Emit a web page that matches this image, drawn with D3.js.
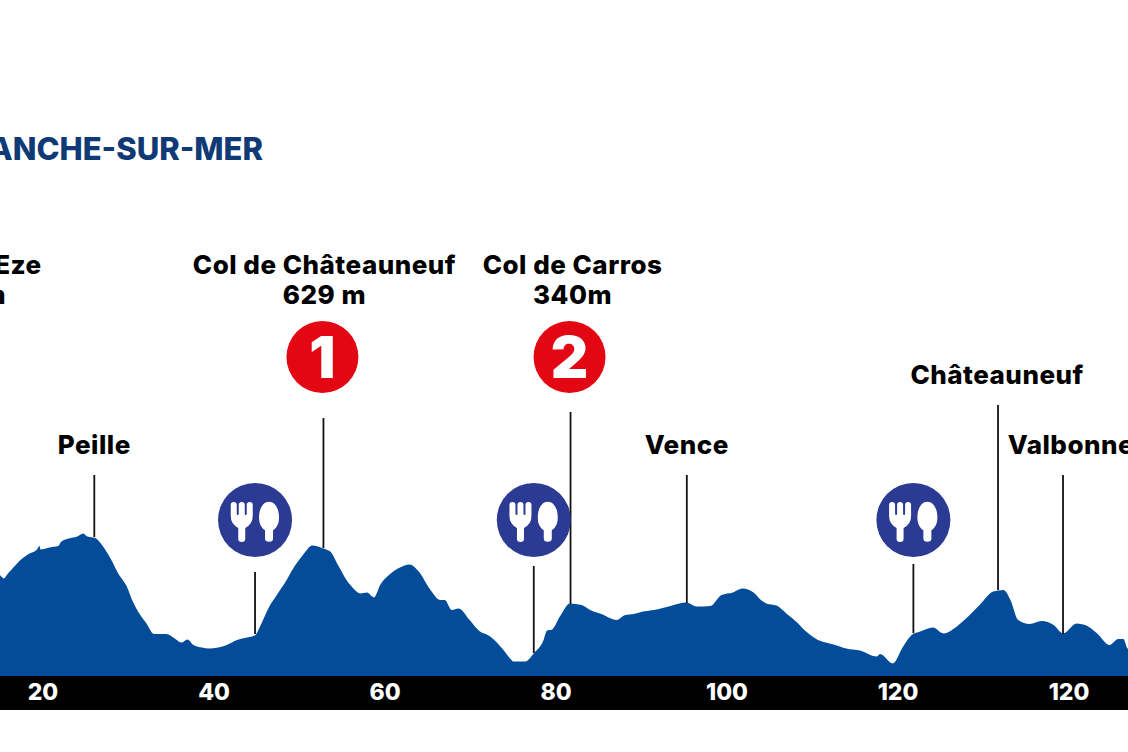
<!DOCTYPE html>
<html><head><meta charset="utf-8">
<script src="https://cdn.jsdelivr.net/npm/d3@7/dist/d3.min.js"></script>
<style>html,body{margin:0;background:#fff;overflow:hidden}svg{display:block}
text{font-family:Inter,"Open Sans",sans-serif;font-weight:800}</style></head>
<body><svg id="c" width="1128" height="752"></svg>
<script>
const titleText = "VILLEFRANCHE-SUR-MER";
const profileKm = [13,14.9,15.4,15.9,16.7,17.3,18.3,19.3,19.6,19.7,20.8,21.8,22.1,23,24,24.7,25.2,26.1,26.9,27.9,28.8,29.8,30.5,31.3,32.1,33,34.4,35.4,36.2,36.9,37.6,38.6,39.4,40.5,41.5,42.7,43.9,44.75,45.55,46.35,47.35,48.5,49.4,50.4,51.5,52.8,53.6,54.5,55.5,56.3,57.1,57.9,58.7,59.5,60.6,61.75,62.85,63.95,65.2,66.5,67,67.8,68.6,69.9,70.9,72.3,73.7,74.8,75,76.4,77.4,78.55,78.95,79.55,80.45,81.65,83,84,85.3,87.1,88.1,89.1,90.2,91.8,93.4,95.25,96.45,98.05,99.35,100.7,101.8,103.1,103.9,104.6,105.8,107,108.2,109.25,110.65,112.45,113.95,115.55,117.5,117.9,119.4,120.6,121.6,122.6,124.1,125.3,127.3,129.55,131.15,132.35,133.15,134.05,135.4,136.8,138.2,139.3,140.9,141.9,143.3,144.75,145.75,146.35,146.85,148];
const profileM = [480,505,488,513,550,577,610,633,650,633,643,650,670,687,697,713,697,690,655,588,513,447,372,310,263,210,210,188,167,183,155,142,137,143,155,180,192,202,263,338,405,480,547,605,653,638,622,555,480,438,413,417,393,460,510,543,558,522,438,380,380,330,338,280,230,197,138,80,72,73,113,180,227,233,297,363,355,330,310,280,305,310,322,333,350,367,347,350,405,418,437,417,383,363,352,310,268,222,180,158,138,127,97,110,63,147,205,222,242,213,263,355,422,430,380,280,260,275,255,213,263,255,213,155,185,185,138,120];
const tickKm = [20,40,60,80,100,120,140];
const tickLabels = ["20","40","60","80","100","120","120"];
const pinNames = ["Peille","Col de Châteauneuf","Col de Carros","Vence","Châteauneuf","Valbonne"];
const pinSub = ["","629 m","340m","","",""];
const pinKm = [26,52.8,81.7,95.3,131.7,139.3];
const pinTopM = [1005,1290,1320,1005,1355,1005];
const pinBaseM = [695,640,360,365,430,210];
const pinBadge = ["","1","2","","",""];
const foodKm = [44.8,77.4,121.8];
const foodTopM = [520,550,560];
const foodBaseM = [210,115,215];

const svg = d3.select("#c");
const x = d3.scaleLinear().domain([20,140]).range([43,1069]);
const y = d3.scaleLinear().domain([0,1000]).range([676,476]);
const profile = profileKm.map((k,i)=>[k,profileM[i]]);

svg.append("text").attr("x",263).attr("y",160).attr("text-anchor","end")
  .attr("font-size",31).attr("fill","#0f3a75").text(titleText);

svg.append("path").datum(profile).attr("fill","#034c99")
  .attr("d",d3.area().curve(d3.curveMonotoneX).x(d=>x(d[0])).y0(y(0)).y1(d=>y(d[1])));

svg.append("rect").attr("x",0).attr("y",y(0)).attr("width",1128).attr("height",34).attr("fill","#000");
svg.append("g").selectAll("text").data(tickKm).join("text")
  .attr("x",d=>x(d)).attr("y",y(0)+24).attr("text-anchor","middle")
  .attr("font-size",23).attr("fill","#fff").text((d,i)=>tickLabels[i]);

svg.append("g").selectAll("line").data(pinKm).join("line")
  .attr("x1",d=>x(d)).attr("x2",d=>x(d))
  .attr("y1",(d,i)=>y(pinTopM[i])).attr("y2",(d,i)=>y(pinBaseM[i]))
  .attr("stroke","#111").attr("stroke-width",1.8);
const lab = svg.append("g").attr("font-size",26).attr("letter-spacing",0.5).attr("fill","#000").attr("text-anchor","middle");
pinNames.forEach((n,i)=>{
  const px = x(pinKm[i]), top = y(pinTopM[i]);
  if(pinBadge[i]){
    svg.append("circle").attr("cx",px-1).attr("cy",357).attr("r",36).attr("fill","#e30613");
    svg.append("text").attr("x",px-1).attr("y",378).attr("text-anchor","middle")
      .attr("font-size",58).attr("fill","#fff").style("font-weight",900).text(pinBadge[i]);
    lab.append("text").attr("x",px+(n==="Col de Carros"?2:1)).attr("y",274).text(n);
    lab.append("text").attr("x",px+(n==="Col de Carros"?2:1)).attr("y",304).text(pinSub[i]);
  } else {
    const shift = n==="Valbonne" ? 8 : (n==="Châteauneuf" ? -1 : 0);
    lab.append("text").attr("x",px+shift).attr("y",top-21).text(n);
  }
});
// label cropped by the left edge
lab.append("text").attr("x",-27).attr("y",274).text("Col de Eze");
lab.append("text").attr("x",-35).attr("y",304).text("507 m");

const fork = "M-24.3,-15 q0,-3 3,-3 q3,0 3,3 v9 q0,1 1,1 q1,0 1,-1 v-9 q0,-3 3,-3 q3,0 3,3 v9 q0,1 1,1 q1,0 1,-1 v-9 q0,-3 3,-3 q3,0 3,3 v11 q0,8 -7.5,12 v11 q0,3 -3.5,3 q-3.5,0 -3.5,-3 v-11 q-7.5,-4 -7.5,-12 z";
const spoon = "M14,-18.3 c6,0 10,7 10,15.5 c0,7.5 -3,11 -6,13 v8.5 q0,3 -4,3 q-4,0 -4,-3 v-8.5 c-3,-2 -6,-5.5 -6,-13 c0,-8.5 4,-15.5 10,-15.5 z";
foodKm.forEach((k,i)=>{
  const px=x(k);
  svg.append("line").attr("x1",px).attr("x2",px).attr("y1",y(foodTopM[i])).attr("y2",y(foodBaseM[i])).attr("stroke","#111").attr("stroke-width",1.8);
  const g=svg.append("g").attr("transform",`translate(${px},520)`);
  g.append("circle").attr("r",37).attr("fill","#2b3a92");
  g.append("path").attr("d",fork).attr("fill","#fff");
  g.append("path").attr("d",spoon).attr("fill","#fff");
});
</script></body></html>
